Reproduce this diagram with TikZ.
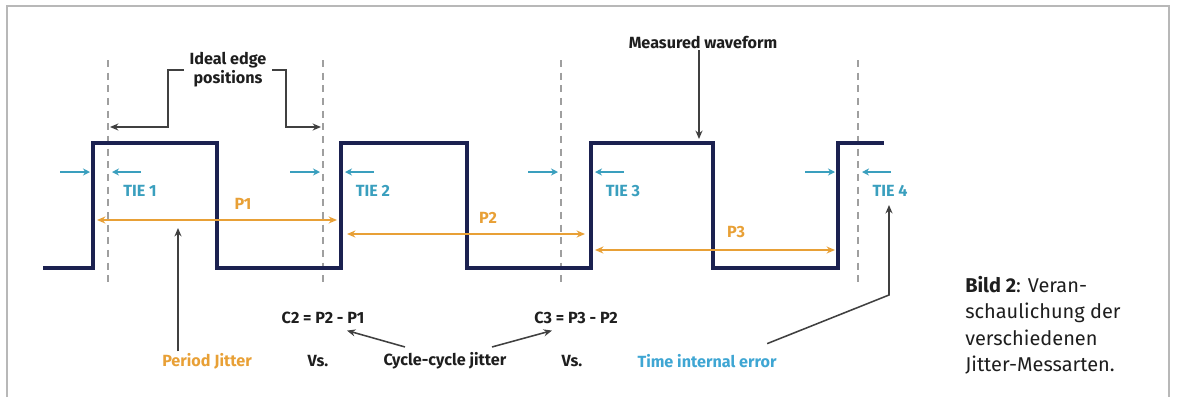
\documentclass[tikz,border=0pt]{standalone}
\usepackage{fontspec}
\setmainfont{Fira Sans}
\usepackage{tikz}
\usetikzlibrary{arrows.meta, positioning, calc}

\definecolor{wavenavy}{HTML}{1B2150}
\definecolor{tieteal}{HTML}{3A9FBE}
\definecolor{tieblue}{HTML}{3FA6D3}
\definecolor{periodorange}{HTML}{E8A036}
\definecolor{framegray}{HTML}{B8B8B8}
\definecolor{labelblack}{HTML}{1E1E1E}

\tikzset{
  lbl/.style={font=\fontsize{11.5}{13.5}\selectfont\bfseries, text=labelblack, inner sep=1pt},
  tielbl/.style={lbl, text=tieteal},
  plbl/.style={lbl, text=periodorange},
  capbox/.style={font=\fontsize{14.2}{18.8}\selectfont, text=labelblack, align=left, inner sep=0pt},
  wave/.style={wavenavy, line width=2.2pt, line join=miter},
  idealline/.style={gray!75, dash pattern=on 5pt off 4pt, line width=0.9pt},
  tiearrow/.style={-{Stealth[length=5pt,width=5pt]}, tieteal, line width=1.2pt},
  parrow/.style={{Stealth[length=6pt,width=5pt]}-{Stealth[length=6pt,width=5pt]}, periodorange, line width=1.2pt},
  callout/.style={-{Stealth[length=6pt,width=5pt]}, labelblack!85, line width=1.1pt},
}

\begin{document}
\begin{tikzpicture}[x=0.025cm, y=-0.025cm]
    \useasboundingbox (0,0) rectangle (1177,397);
    % frame
    \draw[framegray, line width=0.9pt] (7,397) -- (7,6) -- (1169,6) -- (1169,397);

    % ideal edge positions
    \foreach \d/\i in {108/1, 323/2, 561/3, 858/4}
        \draw[idealline] (\d,60) -- (\d,287);

    % measured waveform
    \draw[wave] (43,268) -- (93,268) -- (93,143) -- (217,143) -- (217,268) -- (341,268)
        -- (341,143) -- (467,143) -- (467,268) -- (591,268) -- (591,143) -- (713,143)
        -- (713,268) -- (838,268) -- (838,143) -- (884,143);

    % time interval error markers
    \foreach \e/\d/\i in {93/108/1, 341/323/2, 591/561/3, 838/858/4} {
        \pgfmathsetmacro\lo{min(\e,\d)}
        \pgfmathsetmacro\hi{max(\e,\d)}
        \coordinate (tl\i) at ({\lo-3},172);
        \coordinate (tr\i) at ({\hi+4},172);
        \draw[tiearrow] ({\lo-33},172) -- (tl\i);
        \draw[tiearrow] ({\hi+33},172) -- (tr\i);
        \node[tielbl] (tie\i) at ({\hi+32},191) {TIE \i};
    }

    % periods
    \draw[parrow] (97,220) -- (337,220);
    \node[plbl] (p1) at (243,204) {P1};
    \draw[parrow] (347,234) -- (585,234);
    \node[plbl] (p2) at (488,218) {P2};
    \draw[parrow] (595,250) -- (835,250);
    \node[plbl] (p3) at (736,232) {P3};

    % top labels
    \node[lbl, align=center, inner sep=4pt] (ideal) at (228,70) {Ideal edge\\positions};
    \coordinate (idl) at (110,127);
    \coordinate (idr) at (321,127);
    \draw[callout] (ideal.west) -| (168,127) -- (idl);
    \draw[callout] (ideal.east) -| (286,127) -- (idr);

    \node[lbl] (measured) at (703,42) {Measured waveform};
    \coordinate (mw) at (699,139);
    \draw[callout] (measured.south -| mw) -- (mw);

    % bottom labels
    \node[lbl] (c2) at (323,318) {C2 = P2 - P1};
    \node[lbl] (c3) at (576,318) {C3 = P3 - P2};
    \node[lbl, text=periodorange] (pj) at (207,361) {Period Jitter};
    \node[lbl] (vs1) at (318,361) {Vs.};
    \node[lbl] (cc) at (445,361) {Cycle-cycle jitter};
    \node[lbl] (vs2) at (572,361) {Vs.};
    \node[lbl, text=tieblue] (tie) at (707,361) {Time internal error};

    \coordinate (pjtip) at (178,228);
    \draw[callout] (pj.north -| pjtip) -- (pjtip);
    \draw[callout] ([shift={(23,-4)}]cc.north west) -- ([shift={(24,5)}]c2.south);
    \draw[callout] ([shift={(-16,-4)}]cc.north east) -- ([shift={(-24,5)}]c3.south);
    \coordinate (tietip) at (889,205);
    \draw[callout] ([shift={(-11,-9)}]tie.north east) -- (889,295) -- (tietip);

    % caption
    \node[capbox, anchor=north west] (cap) at (965,276)
        {\textbf{Bild 2}: Veran-\\schaulichung der\\verschiedenen\\Jitter-Messarten.};
\end{tikzpicture}
\end{document}
